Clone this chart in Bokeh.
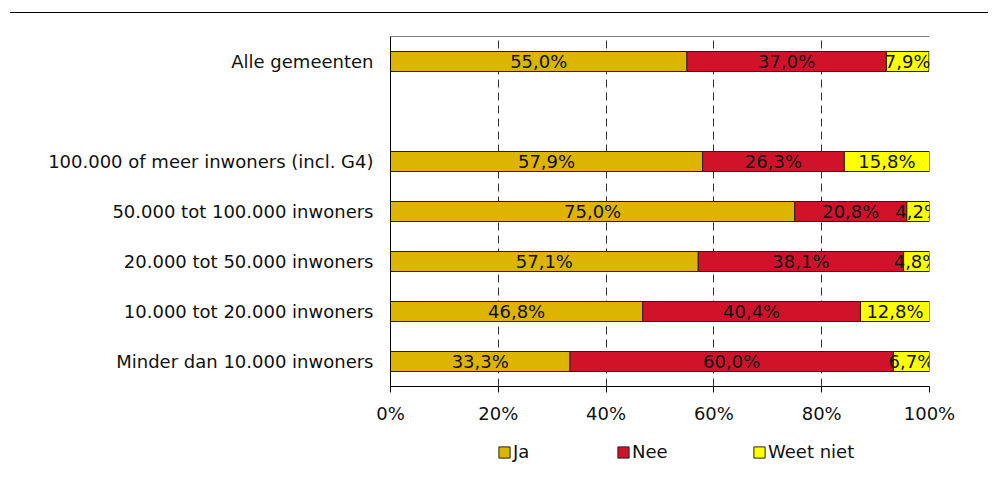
import numpy as np
from bokeh.plotting import figure
from bokeh.models import (ColumnDataSource, FactorRange, Range1d, FixedTicker,
                          Legend, LegendItem, Span, Div)
from bokeh.layouts import column
from bokeh.core.properties import value
from bokeh.embed import file_html
from bokeh.resources import INLINE

# ---------------- data ----------------
categories = ["Alle gemeenten", " ",
              "100.000 of meer inwoners (incl. G4)",
              "50.000 tot 100.000 inwoners",
              "20.000 tot 50.000 inwoners",
              "10.000 tot 20.000 inwoners",
              "Minder dan 10.000 inwoners"]
series_names = ["Ja", "Nee", "Weet niet"]
ja = [55.0, None, 57.9, 75.0, 57.1, 46.8, 33.3]
nee = [37.0, None, 26.3, 20.8, 38.1, 40.4, 60.0]
weet_niet = [7.9, None, 15.8, 4.2, 4.8, 12.8, 6.7]
tick_values = [0, 20, 40, 60, 80, 100]
tick_labels = ["0%", "20%", "40%", "60%", "80%", "100%"]
colors = ["#DDB400", "#D0132A", "#FFFF00"]

FONT = "DejaVu Sans"

series = [ja, nee, weet_niet]
idx = [i for i, v in enumerate(ja) if v is not None]
cats = [categories[i] for i in idx]

RULE_H = 13
p = figure(width=998, height=415, output_backend="svg", toolbar_location=None,
           y_range=FactorRange(*list(reversed(categories)), range_padding=0),
           x_range=Range1d(0, 100),
           min_border_left=390, min_border_right=69, min_border_top=36 - RULE_H,
           min_border_bottom=42, outline_line_color=None)

renderers = []
left = np.zeros(len(idx))
for name, vals, col in zip(series_names, series, colors):
    v = np.array([vals[i] for i in idx], dtype=float)
    right = left + v
    src = ColumnDataSource(dict(y=cats, left=left.copy(), right=right,
                                mid=(left + right) / 2,
                                lab=[f"{x:.1f}".replace(".", ",") + "%" for x in v]))
    r = p.hbar(y="y", left="left", right="right", height=0.4, source=src,
               fill_color=col, line_color="#222222", line_width=1)
    renderers.append(r)
    p.text(x="mid", y="y", text="lab", source=src, text_align="center",
           text_baseline="middle", text_font=value(FONT), text_font_size="18px",
           text_color="#111111")
    left = right

# grid
p.ygrid.grid_line_color = None
p.xgrid.ticker = FixedTicker(ticks=tick_values)
p.xgrid.grid_line_color = "#333333"
p.xgrid.grid_line_dash = "8 5"
p.xgrid.grid_line_width = 1

# top border of plot area
p.add_layout(Span(location=len(categories), dimension="width", line_color="black",
                  line_width=1))

# x axis
p.xaxis.ticker = FixedTicker(ticks=tick_values)
p.xaxis.major_label_overrides = {t: l for t, l in zip(tick_values, tick_labels)}
p.xaxis.major_tick_in = 0
p.xaxis.major_tick_out = 6
p.xaxis.minor_tick_line_color = None
p.xaxis.axis_line_color = "black"
p.xaxis.major_tick_line_color = "black"
p.xaxis.major_label_text_font = FONT
p.xaxis.major_label_text_font_size = "18px"
p.xaxis.major_label_text_color = "#111111"
p.xaxis.major_label_standoff = 10

# y axis
p.yaxis.major_tick_line_color = None
p.yaxis.minor_tick_line_color = None
p.yaxis.major_tick_out = 0
p.yaxis.major_tick_in = 0
p.yaxis.axis_line_color = "black"
p.yaxis.major_label_text_font = FONT
p.yaxis.major_label_text_font_size = "18px"
p.yaxis.major_label_text_color = "#111111"
p.yaxis.major_label_standoff = 17

# legend strip below the chart (key glyphs sit outside the strip's visible range)
lf = figure(width=998, height=65, output_backend="svg", toolbar_location=None,
            x_range=Range1d(0, 1), y_range=Range1d(0, 1),
            min_border_left=390, min_border_right=69, min_border_top=0,
            min_border_bottom=0, outline_line_color=None)
lf.axis.visible = False
lf.grid.visible = False
leg_x = [107, 226, 362]
for name, col, lx in zip(series_names, colors, leg_x):
    lsrc = ColumnDataSource(dict(y=[-10.0], left=[0.5], right=[0.5]))
    lr = lf.hbar(y="y", left="left", right="right", height=0.4, source=lsrc,
                 fill_color=col, line_color="#222222", line_width=1)
    lg = Legend(items=[LegendItem(label=name, renderers=[lr])], location=(lx, 31),
                orientation="horizontal", glyph_width=14, glyph_height=14,
                label_standoff=2, padding=0, margin=0, spacing=0,
                border_line_color=None, background_fill_alpha=0,
                label_text_font=FONT, label_text_font_size="18px",
                label_text_color="#111111")
    lf.add_layout(lg, "center")

# thin rule at the top of the page
rule = Div(text="", width=978, height=1, margin=(12, 10, 0, 10),
           styles={"background-color": "black"})

layout = column(rule, p, lf)
open("out.html", "w").write(file_html(layout, INLINE))
